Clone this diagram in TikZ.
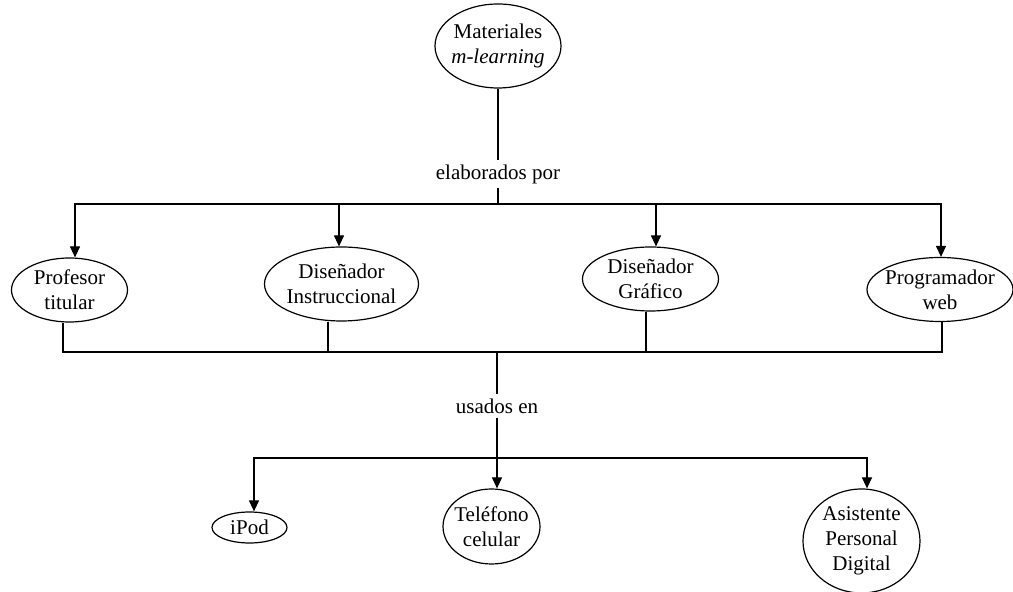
\documentclass[tikz,border=0pt]{standalone}
\usepackage{fontspec}
\setmainfont{Liberation Serif}
\usetikzlibrary{shapes,arrows.meta,positioning,calc}

\begin{document}
\begin{tikzpicture}[x=0.5pt,y=-0.5pt,>={Triangle[length=5.5pt,width=5pt]},line width=0.6pt,font=\fontsize{10.5}{12.6}\selectfont]
  \tikzstyle{actor}=[draw,ellipse,align=center,inner xsep=-6pt,inner ysep=-4pt]
  \tikzstyle{rel}=[inner sep=2pt]
  \useasboundingbox (0,0) rectangle (1013,592);

  \node[actor,minimum width=63pt,minimum height=42pt] (MAT) at (498,46) {Materiales\\\textit{m-learning}};

  \node[actor,minimum width=58pt,minimum height=32pt] (PROF) at (69.5,290) {Profesor\\titular};
  \node[actor,minimum width=77pt,minimum height=37pt] (INSTR) at (341.5,284) {Diseñador\\Instruccional};
  \node[actor,minimum width=68pt,minimum height=32pt] (GRAF) at (650.5,279) {Diseñador\\Gráfico};
  \node[actor,minimum width=73pt,minimum height=32pt] (PROG) at (940,289.5) {Programador\\web};

  \node[actor,minimum width=37.5pt,minimum height=15.5pt] (IPOD) at (249.5,527.5) {iPod};
  \node[actor,minimum width=48.5pt,minimum height=37.5pt] (TEL) at (491.5,526.5) {Teléfono\\celular};
  \node[actor,minimum width=58.5pt,minimum height=52pt] (ASIS) at (861.5,541) {Asistente\\Personal\\Digital};

  % elaborados por
  \node[rel] (ELAB) at (498,174) {elaborados por};
  \coordinate (SPLIT) at (498,204);
  \draw (MAT) -- (ELAB);
  \draw (ELAB) -- (SPLIT);
  \foreach \n/\s in {PROF/2.75pt,INSTR/-1.25pt,GRAF/2.75pt,PROG/0.5pt}
    \draw[->] (SPLIT) -| ([xshift=\s]\n.north);

  % usados en
  \coordinate (JOIN) at (497,352);
  \foreach \n/\s in {PROF/-3.25pt,INSTR/-6.75pt,GRAF/-2.25pt,PROG/1pt}
    \draw ([xshift=\s]\n.south) |- (JOIN);
  \node[rel] (USADOS) at (497,406) {usados en};
  \draw (JOIN) -- (USADOS);
  \draw[->] (USADOS) -- ([xshift=2.75pt]TEL.north);
  \coordinate (SPLITB) at (497,458);
  \draw[->] (SPLITB) -| ([xshift=2.25pt]IPOD.north);
  \draw[->] (SPLITB) -| ([xshift=2.75pt]ASIS.north);
\end{tikzpicture}
\end{document}
